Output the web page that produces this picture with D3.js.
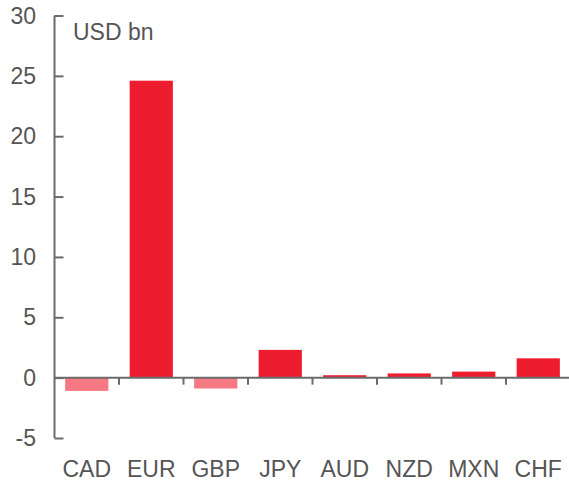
<!DOCTYPE html>
<html>
<head>
<meta charset="utf-8">
<script src="https://cdn.jsdelivr.net/npm/d3@7"></script>
<style>
  body { margin: 0; background: #fff; }
  text { font-family: "Liberation Sans", Arial, sans-serif; fill: #555555; }
</style>
</head>
<body>
<div id="chart"></div>
<script>
var categories = ["CAD", "EUR", "GBP", "JPY", "AUD", "NZD", "MXN", "CHF"];
var values = [-1.1, 24.6, -0.9, 2.3, 0.2, 0.35, 0.5, 1.6];
var yTicks = [-5, 0, 5, 10, 15, 20, 25, 30];
var unitLabel = "USD bn";

var svgWidth = 569, svgHeight = 481;
var axisColor = "#6b6b6b";

var svg = d3.select("#chart")
    .append("svg")
    .attr("width", svgWidth)
    .attr("height", svgHeight);

var xScale = d3.scaleBand()
    .domain(categories)
    .range([54.5, 570.5])
    .paddingInner(0.33)
    .paddingOuter(0.165);

var yScale = d3.scaleLinear()
    .domain([-5, 30])
    .range([438, 15.5]);

// bars
svg.selectAll("rect.bar")
    .data(values)
    .enter()
    .append("rect")
    .attr("class", "bar")
    .attr("x", (d, i) => xScale(categories[i]))
    .attr("width", xScale.bandwidth())
    .attr("y", d => yScale(Math.max(0, d)))
    .attr("height", d => Math.abs(yScale(d) - yScale(0)))
    .attr("fill", d => d < 0 ? "#f57883" : "#ee1c2f");

// y axis
var leftAxis = d3.axisRight(yScale)
    .tickValues(yTicks)
    .tickSize(9)
    .tickFormat("");

var yAxisG = svg.append("g")
    .attr("transform", "translate(54.5,0)")
    .call(leftAxis);
yAxisG.select(".domain").attr("stroke", axisColor).attr("stroke-width", 2)
    .attr("d", `M0,${yScale(30)}V${yScale(-5)}`);
yAxisG.selectAll(".tick line").attr("stroke", axisColor).attr("stroke-width", 2);

svg.selectAll("text.ylab")
    .data(yTicks)
    .enter()
    .append("text")
    .attr("class", "ylab")
    .attr("x", 36)
    .attr("y", d => yScale(d))
    .attr("dy", "0.35em")
    .attr("text-anchor", "end")
    .attr("font-size", "23px")
    .text(d => d);

// x axis at zero
var step = xScale.step();
var separators = categories.slice(0, -1).map(c => xScale(c) + xScale.bandwidth() + step * xScale.paddingInner() / 2);

svg.append("line")
    .attr("x1", 54.5)
    .attr("x2", svgWidth)
    .attr("y1", yScale(0))
    .attr("y2", yScale(0))
    .attr("stroke", axisColor)
    .attr("stroke-width", 2);

svg.selectAll("line.sep")
    .data(separators)
    .enter()
    .append("line")
    .attr("class", "sep")
    .attr("x1", d => d)
    .attr("x2", d => d)
    .attr("y1", yScale(0))
    .attr("y2", yScale(0) + 7)
    .attr("stroke", axisColor)
    .attr("stroke-width", 2);

// category labels
svg.selectAll("text.xlab")
    .data(categories)
    .enter()
    .append("text")
    .attr("class", "xlab")
    .attr("x", d => xScale(d) + xScale.bandwidth() / 2)
    .attr("y", 477)
    .attr("text-anchor", "middle")
    .attr("font-size", "23px")
    .text(d => d);

svg.append("text")
    .attr("x", 73)
    .attr("y", 40)
    .attr("font-size", "23px")
    .text(unitLabel);
</script>
</body>
</html>
